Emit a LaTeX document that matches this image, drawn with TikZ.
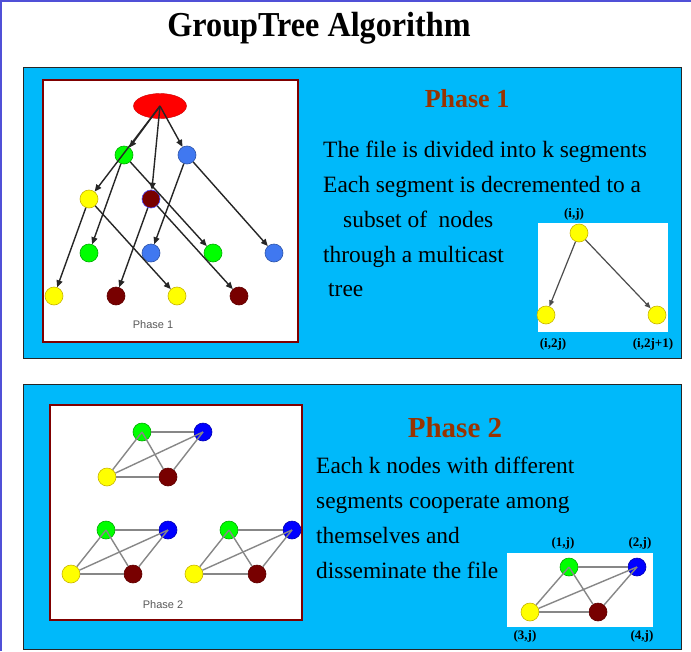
\documentclass[tikz,border=0pt]{standalone}
\usepackage{fontspec}
\setmainfont{Liberation Serif}
\setsansfont{Liberation Sans}
\usetikzlibrary{arrows.meta,shapes.geometric}
\definecolor{panelcyan}{RGB}{0,185,250}
\definecolor{framecol}{RGB}{80,80,215}
\definecolor{boxred}{RGB}{128,0,0}
\definecolor{headcol}{RGB}{153,51,0}
\definecolor{ngreen}{RGB}{0,255,0}
\definecolor{ngreenb}{RGB}{0,170,0}
\definecolor{nblueA}{RGB}{64,120,240}
\definecolor{nblueB}{RGB}{0,0,255}
\definecolor{nmaroon}{RGB}{120,0,0}
\definecolor{nyellow}{RGB}{255,255,0}
\definecolor{nyellowb}{RGB}{200,180,0}
\definecolor{edgegray}{RGB}{135,135,135}
\tikzset{
  panel/.style={fill=panelcyan, draw=black!85, line width=1pt},
  picbox/.style={fill=white, draw=boxred, line width=2pt},
  whitebox/.style={fill=white, draw=none},
  dot/.style={circle, inner sep=0pt, minimum size=#1},
  dot/.default=18pt,
  gdot/.style={dot, fill=ngreen, draw=ngreenb, line width=0.6pt},
  bdotA/.style={dot, fill=nblueA, draw=nblueA!70!black, line width=0.6pt},
  bdotB/.style={dot, fill=nblueB, draw=nblueB!70!black, line width=0.6pt},
  mdot/.style={dot, fill=nmaroon, draw=nmaroon!80!black, line width=0.6pt},
  ydot/.style={dot, fill=nyellow, draw=nyellowb, line width=0.6pt},
  tarrow/.style={-{Triangle[length=7pt,width=6pt]}, line width=1.4pt, black!85},
  sarrow/.style={-{Triangle[length=6pt,width=5pt]}, line width=1.2pt, black!70},
  gline/.style={edgegray, line width=1.4pt},
  heading/.style={font=\bfseries\fontsize{#1}{#1}\selectfont, text=headcol},
  body/.style={font=\fontsize{23.4}{26}\selectfont, anchor=base west, inner sep=0pt},
  lab/.style={font=\bfseries\fontsize{13}{14}\selectfont, inner sep=0pt},
  caption/.style={font=\sffamily\fontsize{11}{12}\selectfont, text=black!65, inner sep=0pt}
}
\begin{document}
\begin{tikzpicture}[x=1pt,y=-1pt]
\useasboundingbox (0,0) rectangle (691,651);
\fill[white] (0,0) rectangle (691,651);
\draw[framecol, line width=1.5pt] (1,651) -- (1,1) -- (691,1);

\node[font=\bfseries\fontsize{35}{40}\selectfont] (title) at (319,28) {\scalebox{0.92}[1]{GroupTree Algorithm}};

% ---------- Panel 1 ----------
\draw[panel] (23,67) rectangle (681,358);
\draw[picbox] (43,80) rectangle (298,342);

\node[ellipse, fill=red, draw=red!80!black, minimum width=53pt, minimum height=25pt, inner sep=0pt] (root) at (160,106) {};
\node[gdot] (g1) at (124,155) {};
\node[bdotA] (b1) at (187,155) {};
\node[ydot] (y2) at (89,199) {};
\node[mdot, draw=blue!70] (m2) at (151,199) {};
\node[gdot] (g3a) at (89,253) {};
\node[bdotA] (b3a) at (151,253) {};
\node[gdot] (g3b) at (213,253) {};
\node[bdotA] (b3b) at (274,253) {};
\node[ydot] (y4a) at (54,296) {};
\node[mdot] (m4a) at (116,296) {};
\node[ydot] (y4b) at (177,296) {};
\node[mdot] (m4b) at (239,296) {};
\node[caption] (cap1) at (153,325) {Phase 1};

\draw[tarrow] (root.center) -- (g1);
\draw[tarrow] (root.center) -- (y2);
\draw[tarrow] (root.center) -- (m2);
\draw[tarrow] (root.center) -- (b1);
\draw[tarrow] (g1) -- (g3a);
\draw[tarrow] (g1) -- (g3b);
\draw[tarrow] (b1) -- (b3a);
\draw[tarrow] (b1) -- (b3b);
\draw[tarrow] (y2) -- (y4a);
\draw[tarrow] (y2) -- (y4b);
\draw[tarrow] (m2) -- (m4a);
\draw[tarrow] (m2) -- (m4b);

\node[heading=26] (h1) at (467,99) {Phase 1};
\node[body] (t1a) at (323,157) {The file is divided into k segments};
\node[body] (t1b) at (323,192) {Each segment is decremented to a};
\node[body] (t1c) at (343,227) {subset of\ \ nodes};
\node[body] (t1d) at (323,262) {through a multicast};
\node[body] (t1e) at (328,296) {tree};

\fill[whitebox] (538,223) rectangle (668,332);
\node[ydot=15pt] (sy0) at (579,233) {};
\node[ydot=15pt] (sy1) at (546,315) {};
\node[ydot=15pt] (sy2) at (657,315) {};
\draw[sarrow] (sy0) -- (sy1);
\draw[sarrow] (sy0) -- (sy2);
\node[lab] (l0) at (574,214) {(i,j)};
\node[lab] (l1) at (553,344) {(i,2j)};
\node[lab] (l2) at (653,344) {(i,2j+1)};

% ---------- Panel 2 ----------
\draw[panel] (23,384) rectangle (681,649);
\draw[picbox] (50,405) rectangle (302,620);

\foreach \n/\gx/\gy/\bx/\yx/\yy/\mx in {A/142/432/203/107/477/168, B/106/530/168/71/574/133, C/229/530/292/194/574/257}{
  \node[gdot] (g\n) at (\gx,\gy) {};
  \node[bdotB] (b\n) at (\bx,\gy) {};
  \node[ydot] (y\n) at (\yx,\yy) {};
  \node[mdot] (m\n) at (\mx,\yy) {};
  \draw[gline] (g\n) -- (b\n);
  \draw[gline] (y\n) -- (g\n.center);
  \draw[gline] (m\n) -- (g\n.center);
  \draw[gline] (y\n) -- (b\n.center);
  \draw[gline] (m\n) -- (b\n.center);
  \draw[gline] (y\n) -- (m\n);
}
\node[caption] (cap2) at (163,605) {Phase 2};

\node[heading=29] (h2) at (455,428) {Phase 2};
\node[body] (t2a) at (316,473) {Each k nodes with different};
\node[body] (t2b) at (316,508) {segments cooperate among};
\node[body] (t2c) at (316,543) {themselves and};
\node[body] (t2d) at (316,578) {disseminate the file};

\fill[whitebox] (507,553) rectangle (653,627);
\node[gdot] (sg) at (569,567) {};
\node[bdotB] (sb) at (637,567) {};
\node[ydot] (sy) at (530,612) {};
\node[mdot] (sm) at (598,612) {};
\draw[gline] (sg) -- (sb);
\draw[gline] (sy) -- (sg.center);
\draw[gline] (sm) -- (sg.center);
\draw[gline] (sy) -- (sb.center);
\draw[gline] (sm) -- (sb.center);
\draw[gline] (sy) -- (sm);
\node[lab] (q1) at (563,543) {(1,j)};
\node[lab] (q2) at (640,543) {(2,j)};
\node[lab] (q3) at (525,636) {(3,j)};
\node[lab] (q4) at (642,636) {(4,j)};
\end{tikzpicture}
\end{document}
